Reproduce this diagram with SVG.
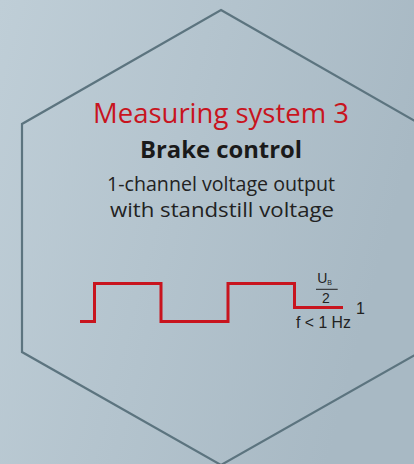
<svg xmlns="http://www.w3.org/2000/svg" width="414" height="464" viewBox="0 0 414 464">
  <defs>
    <linearGradient id="bg" x1="0" y1="0" x2="1" y2="0.3">
      <stop offset="0" stop-color="#bfced7"/>
      <stop offset="1" stop-color="#a8b9c4"/>
    </linearGradient>
    <style>
      .hex { fill: none; stroke: #5c747f; stroke-width: 2.2; }
      .title { font-family: "Open Sans", "Liberation Sans", sans-serif; font-size: 27.5px; fill: #c8141e; text-anchor: middle; }
      .sub { font-family: "Open Sans", "Liberation Sans", sans-serif; font-size: 23.5px; font-weight: bold; fill: #1a1a1a; text-anchor: middle; }
      .desc { font-family: "Open Sans", "Liberation Sans", sans-serif; font-size: 19.8px; fill: #222; text-anchor: middle; }
      .wave { fill: none; stroke: #c8141e; stroke-width: 3; }
      .lbl { font-family: "Liberation Sans", Arial, sans-serif; fill: #222; }
    </style>
  </defs>
  <rect x="0" y="0" width="414" height="464" fill="url(#bg)"/>
  <g id="hexagon">
    <polygon class="hex" points="221,10 420,124 420,352 221,465 22,352 22,124"/>
  </g>
  <g id="texts">
    <text class="title" x="221" y="122.5" textLength="256" lengthAdjust="spacingAndGlyphs">Measuring system 3</text>
    <text class="sub" x="221" y="158" textLength="162" lengthAdjust="spacingAndGlyphs">Brake control</text>
    <text class="desc" x="221" y="191" textLength="228" lengthAdjust="spacingAndGlyphs">1-channel voltage output</text>
    <text class="desc" x="222" y="217" textLength="224" lengthAdjust="spacingAndGlyphs">with standstill voltage</text>
  </g>
  <g id="signal">
    <polyline class="wave" points="80,321.5 94.5,321.5 94.5,283.5 161,283.5 161,321.5 228,321.5 228,283.5 294.5,283.5 294.5,307.5 343,307.5"/>
    <text class="lbl" x="317.3" y="283.3" font-size="14">U</text>
    <text class="lbl" x="327.2" y="285.3" font-size="7">B</text>
    <line x1="316" y1="289.3" x2="337.7" y2="289.3" stroke="#222" stroke-width="1"/>
    <text class="lbl" x="326" y="302.7" font-size="14" text-anchor="middle">2</text>
    <text class="lbl" x="356" y="314" font-size="16">1</text>
    <text class="lbl" x="296" y="328.3" font-size="15.8">f &lt; 1 Hz</text>
  </g>
</svg>
